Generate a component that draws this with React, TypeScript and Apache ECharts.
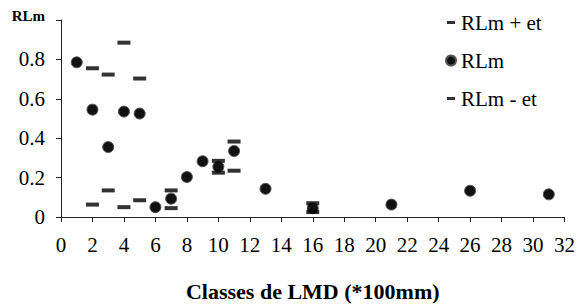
import React, { useEffect, useRef } from "react";
import * as echarts from "echarts";

const xMean = [1, 2, 3, 4, 5, 6, 7, 8, 9, 10, 11, 13, 16, 21, 26, 31];
const rlm = [0.785, 0.545, 0.355, 0.535, 0.525, 0.05, 0.093, 0.203, 0.283, 0.255, 0.335, 0.143, 0.045, 0.063, 0.133, 0.115];

const xErr = [2, 3, 4, 5, 7, 10, 11, 16];
const rlmPlus = [0.755, 0.723, 0.885, 0.703, 0.135, 0.285, 0.383, 0.07];
const rlmMinus = [0.063, 0.135, 0.05, 0.085, 0.045, 0.225, 0.235, 0.025];

const seriesNames = ["RLm + et", "RLm", "RLm - et"];
const xTitle = "Classes de LMD (*100mm)";
const yTitle = "RLm";

const FONT = "Liberation Serif";
const DASH_ICON = "path://M0,0 M1,3.5 L9,3.5 L9,6.5 L1,6.5 Z M10,10";

const nStyle = { fontFamily: FONT, fontSize: 21, fontWeight: "normal", color: "#000", lineHeight: 20 };

export default function App() {
  const ref = useRef<HTMLDivElement>(null);
  useEffect(() => {
    if (!ref.current) return;
    const chart = echarts.init(ref.current, null, { renderer: "svg" });
    chart.setOption({
      animation: false,
      backgroundColor: "#ffffff",
      textStyle: { fontFamily: FONT, color: "#000" },
      grid: { left: 61, right: 12, top: 20, bottom: 88 },
      legend: {
        orient: "vertical",
        left: 440,
        top: 7,
        itemWidth: 10,
        itemHeight: 10,
        itemGap: 17,
        formatter: (name: string) => "{n|" + name + "}",
        textStyle: { fontFamily: FONT, fontSize: 21, color: "#000", rich: { n: nStyle } },
        data: [
          { name: seriesNames[0], icon: DASH_ICON },
          { name: seriesNames[1], icon: "circle" },
          { name: seriesNames[2], icon: DASH_ICON },
        ],
      },
      xAxis: {
        type: "value",
        min: 0,
        max: 32,
        interval: 2,
        name: xTitle,
        nameLocation: "middle",
        nameGap: 63,
        nameTextStyle: { fontFamily: FONT, fontSize: 22, fontWeight: "bold", color: "#000" },
        axisLine: { show: true, onZero: false, lineStyle: { color: "#222", width: 1 } },
        axisTick: { show: true, inside: false, length: 5, lineStyle: { color: "#222" } },
        axisLabel: {
          fontFamily: FONT,
          fontSize: 21,
          color: "#000",
          margin: 18,
          formatter: (v: number) => "{n|" + v + "}",
          rich: { n: nStyle },
        },
        splitLine: { show: false },
      },
      yAxis: {
        type: "value",
        min: 0,
        max: 1,
        interval: 0.2,
        axisLine: { show: true, lineStyle: { color: "#222", width: 1 } },
        axisTick: { show: true, inside: false, length: 5, lineStyle: { color: "#222" } },
        axisLabel: {
          fontFamily: FONT,
          fontSize: 21,
          color: "#000",
          margin: 16,
          formatter: (v: number) => {
            if (Math.abs(v - 1) < 1e-9) return "{t|" + yTitle + "}";
            if (v === 0) return "{n|0}";
            return "{n|" + v.toFixed(1) + "}";
          },
          rich: {
            n: nStyle,
            t: { fontFamily: FONT, fontSize: 15, fontWeight: "bold", color: "#000", padding: [0, 0, 8, 0] },
          },
        },
        splitLine: { show: false },
      },
      series: [
        {
          name: seriesNames[0],
          type: "scatter",
          symbol: "rect",
          symbolSize: [13, 4],
          itemStyle: { color: "#000" },
          data: xErr.map((x, i) => [x, rlmPlus[i]]),
          z: 3,
        },
        {
          name: seriesNames[1],
          type: "scatter",
          symbol: "circle",
          symbolSize: 11,
          itemStyle: { color: "#111", borderColor: "#555", borderWidth: 1, opacity: 1 },
          data: xMean.map((x, i) => [x, rlm[i]]),
          z: 2,
        },
        {
          name: seriesNames[2],
          type: "scatter",
          symbol: "rect",
          symbolSize: [13, 4],
          itemStyle: { color: "#000" },
          data: xErr.map((x, i) => [x, rlmMinus[i]]),
          z: 3,
        },
      ],
    });
    return () => chart.dispose();
  }, []);
  return (
    <div
      ref={ref}
      style={{ position: "fixed", left: 0, top: 0, width: 578, height: 307, background: "#fff" }}
    />
  );
}
